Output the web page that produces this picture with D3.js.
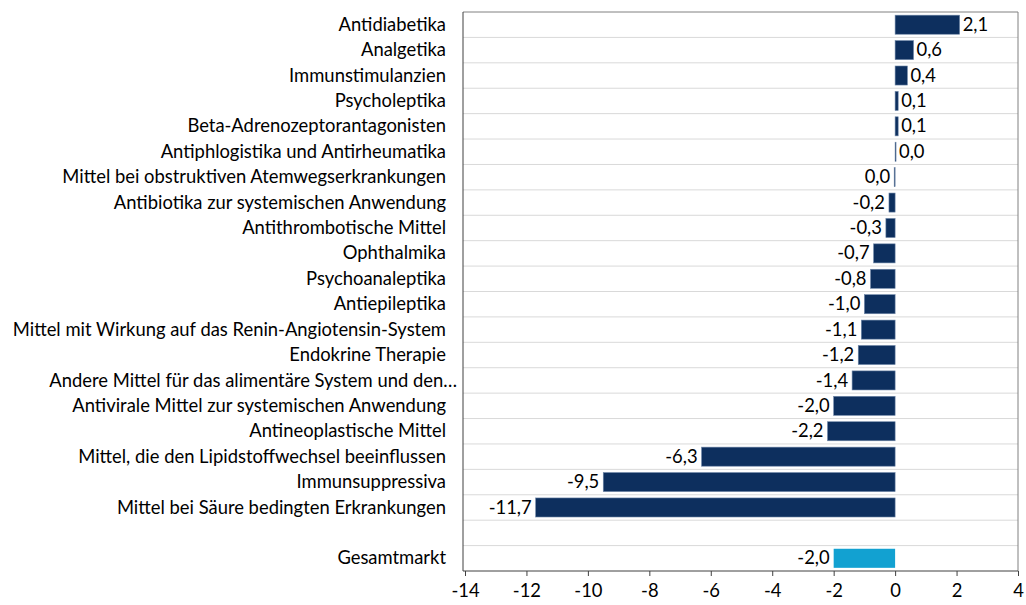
<!DOCTYPE html>
<html><head><meta charset="utf-8">
<script src="https://cdn.jsdelivr.net/npm/d3@7"></script>
<style>body{margin:0;background:#fff}svg{display:block}</style>
</head><body>
<svg id="c" width="1026" height="605"></svg>
<script>
const categories = ["Antidiabetika","Analgetika","Immunstimulanzien","Psycholeptika","Beta-Adrenozeptorantagonisten","Antiphlogistika und Antirheumatika","Mittel bei obstruktiven Atemwegserkrankungen","Antibiotika zur systemischen Anwendung","Antithrombotische Mittel","Ophthalmika","Psychoanaleptika","Antiepileptika","Mittel mit Wirkung auf das Renin-Angiotensin-System","Endokrine Therapie","Andere Mittel für das alimentäre System und den…","Antivirale Mittel zur systemischen Anwendung","Antineoplastische Mittel","Mittel, die den Lipidstoffwechsel beeinflussen","Immunsuppressiva","Mittel bei Säure bedingten Erkrankungen","","Gesamtmarkt"];
const values = [2.1,0.6,0.4,0.1,0.1,0.03,-0.03,-0.2,-0.3,-0.7,-0.8,-1.0,-1.1,-1.2,-1.4,-2.0,-2.2,-6.3,-9.5,-11.7,null,-2.0];
const xTicks = [-14,-12,-10,-8,-6,-4,-2,0,2,4];

const font = "Lato, 'Open Sans', sans-serif";
const fs = 18.4;
const svg = d3.select("#c");
const L = 463, R = 1018, T = 12, B = 571;
const x = d3.scaleLinear().domain([-14,4]).range([L+2,R]);
const y = d3.scaleBand().domain(categories.map((c,i)=>i)).range([T,B]).paddingInner(0.25).paddingOuter(0.125);
const step = y.step();

const g = svg.append("g");
for (let i=1;i<categories.length;i++){
  const yy = T + i*step;
  g.append("line").attr("x1",L).attr("x2",R).attr("y1",yy).attr("y2",yy).attr("stroke","#d9d9d9").attr("stroke-width",1);
}
svg.append("line").attr("x1",L).attr("x2",R).attr("y1",T).attr("y2",T).attr("stroke","#808080");
svg.append("line").attr("x1",R).attr("x2",R).attr("y1",T).attr("y2",B).attr("stroke","#808080");
svg.append("line").attr("x1",L).attr("x2",L).attr("y1",T).attr("y2",B).attr("stroke","#404040");

const fmt = v => Math.abs(v) < 0.05 ? "0,0" : v.toFixed(1).replace(".",",");
const data = categories.map((c,i)=>({c,i,v:values[i]})).filter(d=>d.v!==null);

svg.append("g").selectAll("rect").data(data).join("rect")
  .attr("x",d=>x(Math.min(0,d.v)))
  .attr("width",d=>Math.max(0.8,Math.abs(x(d.v)-x(0))))
  .attr("y",d=>y(d.i)).attr("height",y.bandwidth())
  .attr("fill",d=>d.c==="Gesamtmarkt"?"#12a1d1":"#0d2f5e")
  .attr("stroke",d=>d.c==="Gesamtmarkt"?"none":"#6f87a8").attr("stroke-width",0.6);

svg.append("g").selectAll("text").data(data).join("text")
  .attr("x",d=>d.v>=0 ? x(d.v)+3 : x(d.v)-4)
  .attr("y",d=>y(d.i)+y.bandwidth()/2)
  .attr("dy","0.33em")
  .attr("text-anchor",d=>d.v>=0?"start":"end")
  .attr("font-family",font).attr("font-size",fs).attr("fill","#000")
  .text(d=>fmt(d.v));

svg.append("g").selectAll("text").data(categories.map((c,i)=>({c,i}))).join("text")
  .attr("x",d=>d.c.endsWith("…") ? 457 : 446).attr("y",d=>y(d.i)+y.bandwidth()/2).attr("dy","0.33em")
  .attr("text-anchor","end").attr("font-family",font).attr("font-size",fs).attr("fill","#000")
  .text(d=>d.c);

const ax = svg.append("g").attr("transform",`translate(0,${B})`)
  .call(d3.axisBottom(x).tickValues(xTicks).tickSize(5).tickPadding(8).tickFormat(d=>d));
ax.select(".domain").attr("stroke","#404040").attr("d",`M${L},0H${R}`);
ax.selectAll(".tick line").attr("stroke","#404040");
ax.selectAll("text").attr("font-family",font).attr("font-size",fs).attr("fill","#000");
</script>
</body></html>
